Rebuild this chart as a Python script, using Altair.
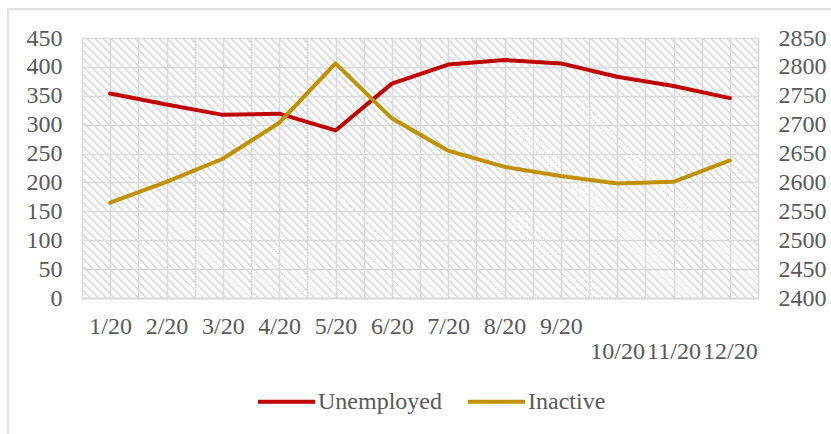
import json

import altair as alt
import pandas as pd

# Monthly series (thousands of persons)
MONTHS = ["1/20", "2/20", "3/20", "4/20", "5/20", "6/20",
          "7/20", "8/20", "9/20", "10/20", "11/20", "12/20"]
UNEMPLOYED = [354, 335, 317, 319, 290, 371, 404, 412, 406, 383, 367, 346]
INACTIVE = [2565, 2601, 2641, 2703, 2806, 2711, 2655, 2627, 2611, 2598, 2601, 2638]

LEFT_TICKS = list(range(0, 451, 50))
RIGHT_TICKS = list(range(2400, 2851, 50))
SERIES = ["Unemployed", "Inactive"]
COLORS = ["#C00000", "#BF9000"]

W, H = 676, 260
FONT = "Liberation Serif"
TEXT = "#595959"
GRID = "#d9d9d9"
HATCH = "#dadada"
CLEAR = "rgba(255,255,255,0)"

pos = [i + 0.5 for i in range(len(MONTHS))]
df_u = pd.DataFrame({"pos": pos, "value": UNEMPLOYED, "series": SERIES[0]})
df_i = pd.DataFrame({"pos": pos, "value": INACTIVE, "series": SERIES[1]})

x_domain = [0, len(MONTHS)]
grid_vals = [i / 2 for i in range(2 * len(MONTHS) + 1)]
df_bg = pd.DataFrame({"x0": [x_domain[0]], "x1": [x_domain[1]],
                      "y0": [LEFT_TICKS[0]], "y1": [LEFT_TICKS[-1]]})

# Diagonal hatch for the plot background, built as a striped linear gradient
# (gaps are transparent so the grid underneath stays visible)
period, thick = 5.66, 1.3
span = (W + H) / 2 ** 0.5
n = round(span / period)
stops = []
for k in range(n):
    a = k / n
    b = a + thick / span
    stops += [alt.GradientStop(offset=a, color=CLEAR),
              alt.GradientStop(offset=a, color=HATCH),
              alt.GradientStop(offset=b, color=HATCH),
              alt.GradientStop(offset=b, color=CLEAR)]
stops.append(alt.GradientStop(offset=1, color=CLEAR))
s = (W + H) / (W * W + H * H)
hatch_fill = alt.Gradient(gradient="linear", stops=stops,
                          x1=0, y1=1, x2=W * s, y2=1 - H * s)

arr = json.dumps(MONTHS)
label_expr = (f"(datum.value % 1) == 0.5 ? (datum.value < 9 ? {arr}[floor(datum.value)]"
              f" : ['', {arr}[floor(datum.value)]]) : ''")

x_scale = alt.Scale(domain=x_domain, nice=False, zero=False)
x_axis = alt.Axis(values=grid_vals, grid=True, gridColor=GRID, gridWidth=1.5,
                  domain=True, domainColor=GRID, domainWidth=2, ticks=False,
                  labelExpr=label_expr, labelFont=FONT, labelFontSize=24,
                  labelColor=TEXT, labelPadding=16, labelLineHeight=25,
                  labelOverlap=False, labelFlush=False, title=None)

yl_scale = alt.Scale(domain=[LEFT_TICKS[0], LEFT_TICKS[-1]], nice=False, zero=False)
yl_axis = alt.Axis(values=LEFT_TICKS, grid=True, gridColor=GRID, gridWidth=1.5,
                   domain=False, ticks=False, labelFont=FONT, labelFontSize=24,
                   labelColor=TEXT, labelPadding=20, title=None, orient="left")
yr_scale = alt.Scale(domain=[RIGHT_TICKS[0], RIGHT_TICKS[-1]], nice=False, zero=False)
yr_axis = alt.Axis(values=RIGHT_TICKS, grid=False, domain=False, ticks=False,
                   format="d", labelFont=FONT, labelFontSize=24, labelColor=TEXT,
                   labelPadding=20, title=None, orient="right")

color = alt.Color("series:N",
                  scale=alt.Scale(domain=SERIES, range=COLORS),
                  legend=alt.Legend(orient="none", legendX=174, legendY=333,
                                    direction="horizontal", title=None,
                                    symbolType="stroke", symbolSize=3249,
                                    symbolStrokeWidth=4, labelFont=FONT,
                                    labelFontSize=24, labelColor=TEXT,
                                    labelOffset=1, columnPadding=18, padding=0))

frame = alt.Chart(df_bg).mark_rect(filled=False, stroke=GRID, strokeWidth=1.5).encode(
    x=alt.value(-74), x2=alt.value(760), y=alt.value(-29), y2=alt.value(420))

hatch = alt.Chart(df_bg).mark_rect(fill=hatch_fill).encode(
    x=alt.X("x0:Q", scale=x_scale, axis=x_axis), x2="x1:Q",
    y=alt.Y("y0:Q", scale=yl_scale, axis=yl_axis), y2="y1:Q")

line_u = alt.Chart(df_u).mark_line(strokeWidth=4, strokeJoin="round", strokeCap="round").encode(
    x=alt.X("pos:Q", scale=x_scale, axis=x_axis),
    y=alt.Y("value:Q", scale=yl_scale, axis=yl_axis),
    color=color)

line_i = alt.Chart(df_i).mark_line(strokeWidth=4, strokeJoin="round", strokeCap="round").encode(
    x=alt.X("pos:Q", scale=x_scale, axis=x_axis),
    y=alt.Y("value:Q", scale=yr_scale, axis=yr_axis),
    color=color)

chart = alt.layer(alt.layer(frame, hatch, line_u), line_i).resolve_scale(
    y="independent"
).properties(
    width=W, height=H,
    autosize=alt.AutoSizeParams(type="none"),
    padding={"left": 82, "top": 38, "right": 73, "bottom": 136},
    background="#ffffff",
).configure_view(strokeWidth=0)

chart.save("out.html", embed_options={"renderer": "svg", "actions": False})
